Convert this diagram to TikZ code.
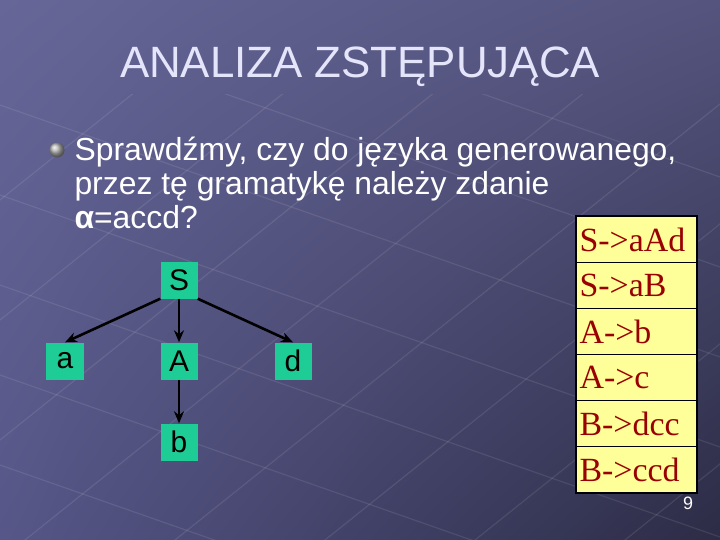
\documentclass[tikz,border=0pt]{standalone}
\usepackage{fontspec}
\setmainfont{Liberation Sans}
\newfontfamily\rulefont{Liberation Serif}
\usepackage{xcolor}
\usepackage{tikz}
\usetikzlibrary{arrows.meta, matrix, shadings}

\definecolor{bgUL}{RGB}{102,102,152}
\definecolor{bgUR}{RGB}{84,84,126}
\definecolor{bgLL}{RGB}{86,86,136}
\definecolor{bgLR}{RGB}{44,44,70}
\definecolor{titlecol}{RGB}{228,228,250}
\definecolor{nodegreen}{RGB}{30,204,150}
\definecolor{ruleyellow}{RGB}{255,255,153}
\definecolor{rulered}{RGB}{153,0,0}

\tikzset{treearrow/.style={draw=black, line width=2.6bp,
  -{Stealth[length=12bp,width=10bp]}}}

\begin{document}
\begin{tikzpicture}[x=1bp, y=-1bp]
  \useasboundingbox (0,0) rectangle (720,540);
  \shade[upper left=bgUL, upper right=bgUR, lower left=bgLL, lower right=bgLR]
    (0,0) rectangle (720,540);
  % faint floor grid
  \begin{scope}
    \clip (0,95) rectangle (720,540);
    \foreach \y in {-200,-110,...,560}
      \draw[white, opacity=0.09, line width=1.2bp] (-100,\y) -- (820,\y+322);
    \foreach \x in {-600,-450,...,750}
      \draw[white, opacity=0.09, line width=1.2bp] (\x,560) -- (\x+700,0);
  \end{scope}

  \node (title) [text=titlecol, font=\fontsize{44}{44}\selectfont] at (360,67)
    {ANALIZA ZSTĘPUJĄCA};
  \node (bullet) [circle, inner sep=0pt, minimum size=15bp, shade,
    ball color=gray!60!white] at (57,150) {};
  \node (line1) [anchor=base west, text=white, font=\fontsize{32}{34}\selectfont]
    at (71,161) {Sprawdźmy, czy do języka generowanego,};
  \node (line2) [anchor=base west, text=white, font=\fontsize{32}{34}\selectfont]
    at (71,195) {przez tę gramatykę należy zdanie};
  \node (line3) [anchor=base west, text=white, font=\fontsize{32}{34}\selectfont]
    at (71,229) {\textbf{α}=accd?};

  \matrix (tree) [
      matrix of nodes,row sep=44bp,column sep=77bp,
      nodes={fill=nodegreen,minimum width=37bp,minimum height=37bp,
        inner sep=0pt,font=\fontsize{30}{30}\selectfont,anchor=center}
  ] at (179,361) {
      & S & \\
    a & A & d \\
      & b & \\
  };
  \draw[treearrow] (tree-1-2.south west) -- (tree-2-1.north);
  \draw[treearrow] (tree-1-2) -- (tree-2-2);
  \draw[treearrow] (tree-1-2.south east) -- (tree-2-3.north);
  \draw[treearrow] (tree-2-2) -- (tree-3-2);

  \matrix (rules) [
      matrix of nodes,row sep=-0.8bp,inner sep=0pt,anchor=north west,
      nodes={draw=black,line width=0.8bp,fill=ruleyellow,text=rulered,
        font=\rulefont\fontsize{34}{34}\selectfont,text width=114bp,
        minimum height=46bp,inner sep=3bp,align=left,anchor=center}
  ] at (576,216) {
    S->aAd \\
    S->aB \\
    A->b \\
    A->c \\
    B->dcc \\
    B->ccd \\
  };
  \draw[line width=2.4bp] (rules.north west) rectangle (rules.south east);

  \node (pagenum) [text=white, font=\fontsize{18}{18}\selectfont] at (688,503) {9};
\end{tikzpicture}
\end{document}
